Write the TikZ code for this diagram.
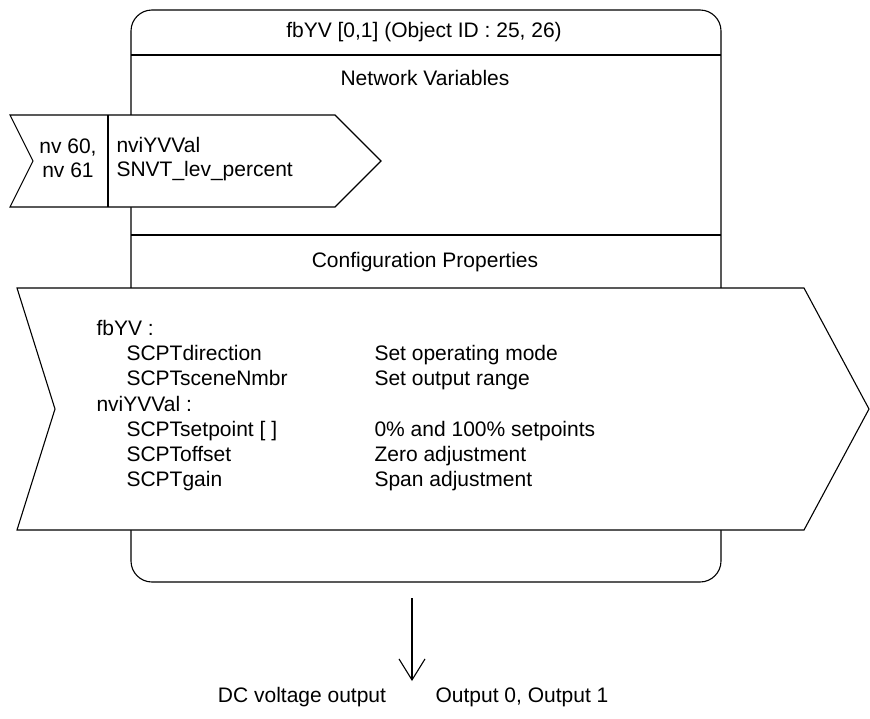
\documentclass[tikz,border=0pt]{standalone}
\usepackage{fontspec}
\setmainfont{Liberation Sans}
\usetikzlibrary{positioning,arrows.meta}
\begin{document}
\begin{tikzpicture}[x=1pt, y=-1pt, line width=1.1pt, draw=black]
    \tikzstyle{txt}=[inner sep=0pt, font=\fontsize{21}{24}\selectfont]
    \tikzstyle{left txt}=[txt, anchor=base west];
    \tikzstyle{frame}=[draw=black, line width=1.1pt];
    \tikzstyle{flag}=[frame, fill=white, line join=miter];

    \useasboundingbox (0,0) rectangle (870,718);

    % Draw the function block frame and its sections
    \draw[frame, rounded corners=21pt] (131,10) rectangle (721,582);
    \draw[frame] (131,55) -- (721,55);
    \draw[frame] (131,235) -- (721,235);
    \node[txt] (title) at (424,32) {fbYV [0,1] (Object ID : 25, 26)};
    \node[txt] (nv) at (425,78) {Network Variables};
    \node[txt] (cp) at (425,262) {Configuration Properties};

    % Draw the network variable input
    \draw[flag] (10,115) -- (335,115) -- (381,161) -- (335,207) -- (10,207) -- (33,161) -- cycle;
    \draw[frame] (108,115) -- (108,207);
    \node[txt, align=center] (nv-no) at (68,158) {nv 60,\\nv 61};
    \node[left txt] (nv-name) at (116,152) {nviYVVal};
    \node[left txt] (nv-type) at (116,176) {SNVT\_lev\_percent};

    % Draw the configuration property list
    \draw[flag] (17,288) -- (804,288) -- (869,409) -- (804,530) -- (17,530) -- (55,409) -- cycle;
    \node[left txt] (fb-1) at (96,335) {fbYV :};
    \node[left txt] (fb-2) at (96,411) {nviYVVal :};
    \foreach \y/\prop/\desc in {1/SCPTdirection/Set operating mode,
                               2/SCPTsceneNmbr/Set output range,
                               4/SCPTsetpoint [ ]/0\% and 100\% setpoints,
                               5/SCPToffset/Zero adjustment,
                               6/SCPTgain/Span adjustment}
    {
        \node[left txt] (P-\y) at (126,{335+25.3*\y}) {\prop};
        \node[left txt] (D-\y) at (374,{335+25.3*\y}) {\desc};
    }

    % Draw the output
    \coordinate (out-top) at (412,598);
    \coordinate (out-end) at (412,681);
    \draw[-{Straight Barb[length=21pt,width=26pt]}] (out-top) -- (out-end);
    \node[txt] (dc) at (302,697) {DC voltage output};
    \node[txt] (ch) at (522,697) {Output 0, Output 1};
\end{tikzpicture}
\end{document}
